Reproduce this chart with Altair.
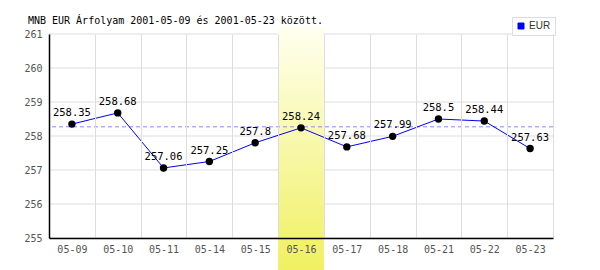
import altair as alt
import pandas as pd

dates = ["05-09", "05-10", "05-11", "05-14", "05-15", "05-16",
         "05-17", "05-18", "05-21", "05-22", "05-23"]
values = [258.35, 258.68, 257.06, 257.25, 257.8, 258.24,
          257.68, 257.99, 258.5, 258.44, 257.63]
series = "EUR"
highlight = ["05-16"]
ref_value = [258.27]
y_ticks = [255, 256, 257, 258, 259, 260, 261]
title_text = "MNB EUR Árfolyam 2001-05-09 és 2001-05-23 között."

MONO = "DejaVu Sans Mono"

df = pd.DataFrame({"date": dates, "value": values, "series": [series] * len(dates)})
hl_df = pd.DataFrame({"date": highlight})
ref_df = pd.DataFrame({"v": ref_value})
grid_df = pd.DataFrame({"t": y_ticks})

xscale = alt.Scale(type="band", domain=dates, paddingInner=0, paddingOuter=0)
yscale = alt.Scale(domain=[255, 261], nice=False, zero=False)

xaxis = alt.Axis(title=None, grid=True, gridColor="#dddddd", tickBand="extent",
                 ticks=False, domainColor="black", domainWidth=1.5,
                 labelFont=MONO, labelFontSize=10, labelColor="#555555",
                 labelPadding=6, labelAngle=0, zindex=1)
yaxis = alt.Axis(title=None, grid=False, values=y_ticks, ticks=False,
                 domainColor="black", domainWidth=1.5, labelOverlap=False,
                 labelFlush=False,
                 labelFont=MONO, labelFontSize=10, labelColor="#555555",
                 labelPadding=7, zindex=1)

hgrid = alt.Chart(grid_df).mark_rule(color="#dddddd", strokeWidth=1).encode(
    y=alt.Y("t:Q", scale=yscale, axis=yaxis)
)

band = alt.Chart(hl_df).mark_rect(
    color=alt.Gradient(
        gradient="linear",
        stops=[alt.GradientStop(color="#fffff0", offset=0),
               alt.GradientStop(color="#f0f060", offset=1)],
        x1=0, x2=0, y1=0, y2=1,
    )
).encode(
    x=alt.X("date:N", scale=xscale, axis=xaxis),
    y=alt.value(-7),
    y2=alt.value(236),
)

ref = alt.Chart(ref_df).mark_rule(color="#8888ff", strokeDash=[4, 3], strokeWidth=1).encode(
    y=alt.Y("v:Q", scale=yscale, axis=yaxis)
)

line = alt.Chart(df).mark_line(strokeWidth=1).encode(
    x=alt.X("date:N", scale=xscale, axis=xaxis),
    y=alt.Y("value:Q", scale=yscale, axis=yaxis),
    color=alt.Color("series:N", scale=alt.Scale(domain=[series], range=["#0000ff"]),
                    legend=alt.Legend(title=None, orient="none", legendX=463, legendY=-17,
                                      symbolType="square", symbolSize=36,
                                      symbolStrokeColor="#000055", symbolStrokeWidth=1,
                                      symbolFillColor="#0000ff", symbolOffset=0,
                                      labelFont="Liberation Sans", labelFontSize=10,
                                      labelColor="#333333", labelOffset=3,
                                      strokeColor="#dddddd", padding=4,
                                      fillColor="white")),
)

points = alt.Chart(df).mark_circle(size=55, color="black", opacity=1).encode(
    x=alt.X("date:N", scale=xscale, axis=xaxis),
    y=alt.Y("value:Q", scale=yscale, axis=yaxis),
)

labels = alt.Chart(df).mark_text(font=MONO, fontSize=10.5, color="black", dy=-11).encode(
    x=alt.X("date:N", scale=xscale, axis=xaxis),
    y=alt.Y("value:Q", scale=yscale, axis=yaxis),
    text=alt.Text("value:Q"),
)

chart = alt.layer(hgrid, band, ref, line, points, labels).properties(
    width=504,
    height=204,
    autosize=alt.AutoSizeParams(type="none"),
    padding={"left": 49, "top": 34, "right": 47, "bottom": 32},
    title=alt.TitleParams(title_text, anchor="start", font=MONO, fontSize=10,
                          fontWeight="normal", color="black", offset=-9, dx=4),
).configure_view(stroke=None).configure_axis(labelOverlap=False)

chart.save("out.html", embed_options={"renderer": "svg", "actions": False})
